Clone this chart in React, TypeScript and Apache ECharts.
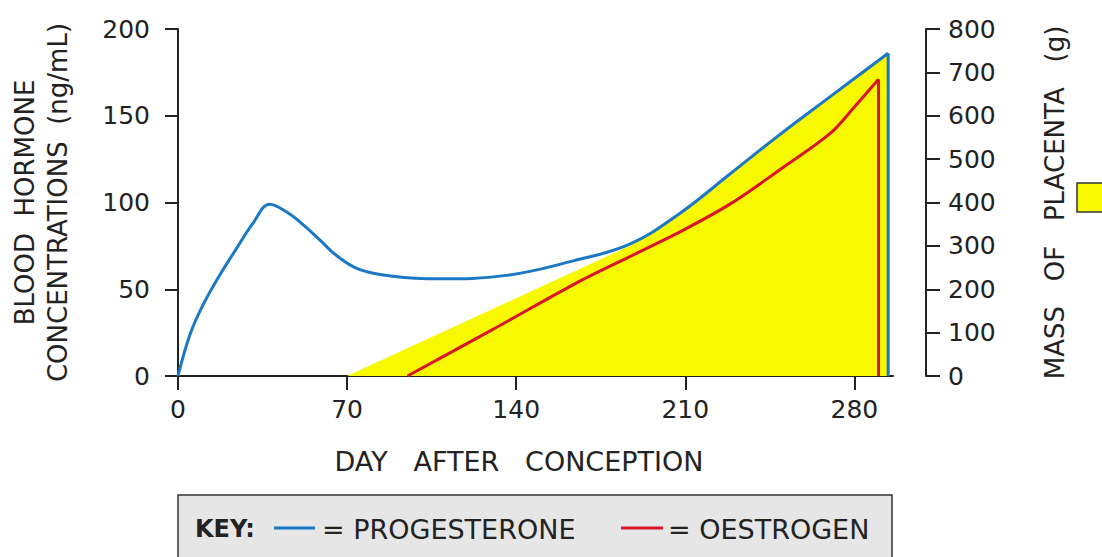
import React, { useEffect, useRef } from "react";
import * as echarts from "echarts";

// ---- data ----
const dayTicks = [0, 70, 140, 210, 280];
const progesteroneDays = [0, 5, 10, 17, 24, 31, 38, 45, 52, 59, 66, 75, 89, 108, 136, 164, 187, 208, 229, 249, 270, 294];
const progesteroneValues = [0, 24, 40, 57.5, 73, 88, 99, 94.5, 87, 78, 69, 61.5, 57.5, 56, 58, 66.5, 76, 94, 117, 139, 161, 186];
const oestrogenDays = [95, 130, 166, 187, 208, 229, 249, 270, 280, 290];
const oestrogenValues = [0, 26.6, 54.4, 68.8, 83.2, 99.5, 118.7, 139.8, 155, 171];
const placentaDays = [70, 187, 197, 208, 229, 249, 270, 294, 294];
const placentaMass = [0, 300, 336, 376, 468, 556, 644, 744, 0];

const BLUE = "#1b78c4";
const RED = "#d8162b";
const YELLOW = "#f8f800";
const INK = "#222222";
const FONT = "DejaVu Sans";

const zip = (xs: number[], ys: number[]) => xs.map((x, i) => [x, ys[i]]);

export default function App() {
  const ref = useRef<HTMLDivElement>(null);
  useEffect(() => {
    document.body.style.margin = "0";
    const chart = echarts.init(ref.current!, null, { renderer: "svg" });
    const prog = zip(progesteroneDays, progesteroneValues);
    const oest = zip(oestrogenDays, oestrogenValues);
    const lastP = prog[prog.length - 1];
    const lastO = oest[oest.length - 1];
    chart.setOption({
      animation: false,
      grid: { left: 178, right: 209, top: 29, bottom: 181, containLabel: false, outerBoundsMode: "none" },
      xAxis: {
        type: "value",
        min: 0,
        max: 296,
        interval: 70,
        name: "DAY   AFTER   CONCEPTION",
        nameLocation: "middle",
        nameGap: 72,
        nameTextStyle: { fontFamily: FONT, fontSize: 27, color: INK, padding: [0, 33, 0, 0] },
        axisLine: { show: true, onZero: false, lineStyle: { color: INK, width: 2 } },
        axisTick: { show: true, length: 14, lineStyle: { color: INK, width: 2 }, customValues: dayTicks },
        axisLabel: { fontFamily: FONT, fontSize: 25, color: INK, margin: 21, customValues: dayTicks },
        splitLine: { show: false },
      },
      yAxis: [
        {
          type: "value",
          min: 0,
          max: 200,
          interval: 50,
          position: "left",
          name: "BLOOD  HORMONE\nCONCENTRATIONS  (ng/mL)",
          nameLocation: "middle",
          nameRotate: 90,
          nameGap: 104,
          nameTextStyle: { fontFamily: FONT, fontSize: 26, color: INK, lineHeight: 33, align: "center" },
          axisLine: { show: true, lineStyle: { color: INK, width: 2 } },
          axisTick: { show: true, length: 13, lineStyle: { color: INK, width: 2 } },
          axisLabel: { fontFamily: FONT, fontSize: 25, color: INK, margin: 28 },
          splitLine: { show: false },
        },
        {
          type: "value",
          min: 0,
          max: 800,
          interval: 100,
          position: "right",
          offset: 33,
          name: "MASS   OF   PLACENTA   (g)",
          nameLocation: "middle",
          nameRotate: 90,
          nameGap: 116,
          nameTextStyle: { fontFamily: FONT, fontSize: 26, color: INK },
          axisLine: { show: true, lineStyle: { color: INK, width: 2 } },
          axisTick: { show: true, length: 14, lineStyle: { color: INK, width: 2 } },
          axisLabel: { fontFamily: FONT, fontSize: 25, color: INK, margin: 22 },
          splitLine: { show: false },
        },
      ],
      series: [
        {
          name: "MASS OF PLACENTA",
          type: "line",
          yAxisIndex: 1,
          data: zip(placentaDays, placentaMass),
          showSymbol: false,
          lineStyle: { width: 0 },
          areaStyle: { color: YELLOW, opacity: 1 },
          z: 1,
        },
        {
          name: "PROGESTERONE",
          type: "line",
          data: prog,
          smooth: 0.4,
          showSymbol: false,
          lineStyle: { color: BLUE, width: 3 },
          z: 3,
        },
        {
          name: "PROGESTERONE",
          type: "line",
          data: [lastP, [lastP[0], 0]],
          showSymbol: false,
          lineStyle: { color: BLUE, width: 3 },
          z: 3,
        },
        {
          name: "OESTROGEN",
          type: "line",
          data: oest,
          smooth: 0.3,
          showSymbol: false,
          lineStyle: { color: RED, width: 3 },
          z: 2,
        },
        {
          name: "OESTROGEN",
          type: "line",
          data: [lastO, [lastO[0], 0]],
          showSymbol: false,
          lineStyle: { color: RED, width: 3 },
          z: 2,
        },
      ],
      graphic: [
        {
          type: "rect",
          shape: { x: 1077, y: 183, width: 40, height: 29 },
          style: { fill: YELLOW, stroke: "#333", lineWidth: 1.5 },
        },
        {
          type: "rect",
          shape: { x: 178, y: 495, width: 714, height: 80 },
          style: { fill: "#e6e6e6", stroke: "#333", lineWidth: 1.5 },
        },
        {
          type: "text",
          x: 195,
          y: 529,
          style: { text: "KEY:", font: `bold 24px "${FONT}"`, fill: INK, verticalAlign: "middle" },
        },
        {
          type: "line",
          shape: { x1: 274, y1: 528, x2: 315, y2: 528 },
          style: { stroke: BLUE, lineWidth: 3 },
        },
        {
          type: "text",
          x: 322,
          y: 529,
          style: { text: "= PROGESTERONE", font: `27px "${FONT}"`, fill: INK, verticalAlign: "middle" },
        },
        {
          type: "line",
          shape: { x1: 621, y1: 528, x2: 663, y2: 528 },
          style: { stroke: RED, lineWidth: 3 },
        },
        {
          type: "text",
          x: 668,
          y: 529,
          style: { text: "= OESTROGEN", font: `27px "${FONT}"`, fill: INK, verticalAlign: "middle" },
        },
      ],
    });
    return () => chart.dispose();
  }, []);
  return <div ref={ref} style={{ width: 1102, height: 557 }} />;
}
